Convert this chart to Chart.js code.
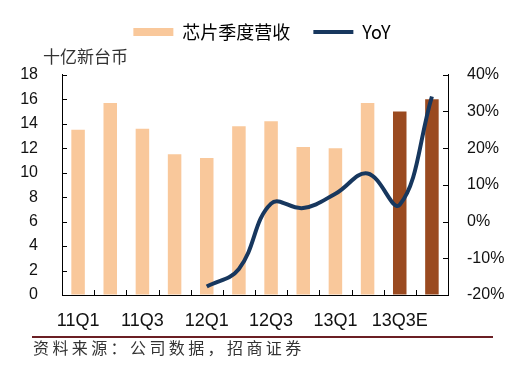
<!DOCTYPE html>
<html>
<head>
<meta charset="utf-8">
<script src="https://cdn.jsdelivr.net/npm/chart.js@4/dist/chart.umd.min.js"></script>
<style>
  html, body { margin: 0; padding: 0; background: #fff; }
  #wrap { position: relative; width: 524px; height: 369px; }
  #unit { position: absolute; left: 43px; top: 46px; font: 17px "Noto Sans CJK SC", sans-serif; color: #333; line-height: 20px; }
  #rule { position: absolute; left: 32px; top: 336px; width: 461px; height: 2px; background: #6b1f24; }
  #source { position: absolute; left: 33px; top: 337px; font: 16px "Noto Sans CJK SC", sans-serif; letter-spacing: 3.4px; color: #333; line-height: 20px; }
</style>
</head>
<body>
<div id="wrap">
  <canvas id="chart" width="524" height="369"></canvas>
  <div id="unit">十亿新台币</div>
  <div id="rule"></div>
  <div id="source">资料来源：公司数据，招商证券</div>
</div>
<script>
// Data
const quarters = ["11Q1", "11Q2", "11Q3", "11Q4", "12Q1", "12Q2", "12Q3", "12Q4", "13Q1", "13Q2", "13Q3E", "13Q4E"];
const revenue = [13.5, 15.7, 13.6, 11.5, 11.2, 13.8, 14.2, 12.1, 12.0, 15.7, 15.0, 16.0];
const yoy = [null, null, null, null, -17.7, -12.9, 4.9, 3.7, 7.6, 13.1, 4.6, 34.1];

const peach = "#f9c89b";
const brown = "#9a4a20";
const navy = "#17375e";
const barColors = quarters.map((q) => (q.endsWith("E") ? brown : peach));

const tickFont = { family: "'Liberation Sans', Arial, sans-serif", size: 16 };

// Tick marks pointing into the plot
const inwardTicks = {
  id: "inwardTicks",
  afterDraw(chart) {
    const { ctx, chartArea, scales } = chart;
    const len = 5;
    ctx.save();
    ctx.strokeStyle = "#000";
    ctx.lineWidth = 1;
    ctx.beginPath();
    scales.y.ticks.forEach((t) => {
      const py = Math.round(scales.y.getPixelForValue(t.value)) + 0.5;
      ctx.moveTo(chartArea.left, py);
      ctx.lineTo(chartArea.left + len, py);
    });
    scales.y1.ticks.forEach((t) => {
      const py = Math.round(scales.y1.getPixelForValue(t.value)) + 0.5;
      ctx.moveTo(chartArea.right, py);
      ctx.lineTo(chartArea.right - len, py);
    });
    for (let i = 0; i <= quarters.length; i++) {
      const px = Math.round(scales.x.getPixelForValue(i - 0.5)) + 0.5;
      ctx.moveTo(px, chartArea.bottom);
      ctx.lineTo(px, chartArea.bottom - len);
    }
    ctx.stroke();
    ctx.restore();
  },
};

new Chart(document.getElementById("chart"), {
  type: "bar",
  data: {
    labels: quarters,
    datasets: [
      {
        type: "line",
        label: "YoY",
        data: yoy,
        yAxisID: "y1",
        borderColor: navy,
        borderWidth: 4,
        pointRadius: 0,
        tension: 0.4,
        order: 0,
      },
      {
        label: "芯片季度营收",
        data: revenue,
        yAxisID: "y",
        backgroundColor: barColors,
        barPercentage: 0.42,
        categoryPercentage: 1,
        order: 1,
      },
    ],
  },
  options: {
    responsive: false,
    animation: false,
    layout: { padding: 0 },
    plugins: {
      tooltip: { enabled: false },
      // empty title used as a spacer between the legend and the plot
      title: {
        display: true,
        text: " ",
        weight: 500,
        font: { size: 4 },
        padding: { top: 0, bottom: 19 },
      },
      legend: {
        position: "top",
        labels: {
          usePointStyle: true,
          pointStyleWidth: 40,
          boxHeight: 8,
          padding: 23,
          color: "#222",
          font: { family: "'Noto Sans CJK SC', sans-serif", size: 18 },
          generateLabels: () => [
            { text: "芯片季度营收", fillStyle: peach, strokeStyle: peach, lineWidth: 0, pointStyle: "rect", datasetIndex: 1 },
            { text: "YoY", fillStyle: navy, strokeStyle: navy, lineWidth: 4, pointStyle: "line", datasetIndex: 0 },
          ],
        },
      },
    },
    scales: {
      x: {
        grid: { display: true, drawOnChartArea: false, drawTicks: false },
        border: { display: true, color: "#000", width: 1 },
        afterFit: (s) => { s.height = 74; },
        ticks: {
          autoSkip: false,
          maxRotation: 0,
          padding: 15,
          color: "#111",
          font: { family: tickFont.family, size: 18 },
          callback: (v, i) => (i % 2 === 0 ? quarters[i] : ""),
        },
      },
      y: {
        position: "left",
        min: 0,
        max: 18,
        grid: { display: true, drawOnChartArea: false, drawTicks: false },
        border: { display: true, color: "#000", width: 1 },
        afterFit: (s) => { s.width = 62; },
        ticks: { stepSize: 2, padding: 24, color: "#111", font: tickFont },
      },
      y1: {
        position: "right",
        min: -20,
        max: 40,
        grid: { display: true, drawOnChartArea: false, drawTicks: false },
        border: { display: true, color: "#000", width: 1 },
        afterFit: (s) => { s.width = 76; },
        ticks: { stepSize: 10, padding: 19, color: "#111", font: tickFont, callback: (v) => v + "%" },
      },
    },
  },
  plugins: [inwardTicks],
});
</script>
</body>
</html>
